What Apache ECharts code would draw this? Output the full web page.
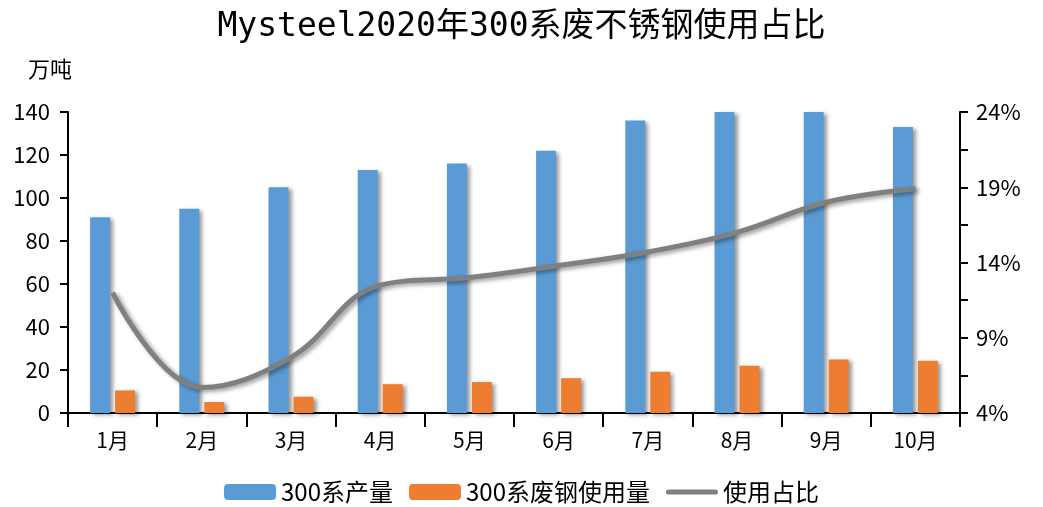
<!DOCTYPE html>
<html>
<head>
<meta charset="utf-8">
<script src="https://cdn.jsdelivr.net/npm/echarts@6/dist/echarts.min.js"></script>
<style>html,body{margin:0;padding:0;background:#fff;}#c{width:1043px;height:507px;}</style>
</head>
<body>
<div id="c"></div>
<script>
const categories = ['1月','2月','3月','4月','5月','6月','7月','8月','9月','10月'];
const output300 = [91, 95, 105, 113, 116, 122, 136, 140, 140, 133];
const scrapUse = [10.5, 5.1, 7.6, 13.4, 14.4, 16.2, 19.2, 22, 24.9, 24.3];
const shareRatio = [12.0, 5.7, 7.7, 12.5, 13.0, 13.8, 14.7, 16.0, 18.0, 18.9];
const seriesNames = ['300系产量', '300系废钢使用量', '使用占比'];

const font = '"Noto Sans CJK SC", sans-serif';
const titleFont = '"DejaVu Sans Mono", "Noto Sans CJK SC", monospace';
const chart = echarts.init(document.getElementById('c'));
const shadow = { shadowBlur: 4, shadowOffsetX: 3, shadowOffsetY: 2, shadowColor: 'rgba(0,0,0,0.4)' };
chart.setOption({
  animation: false,
  title: {
    text: 'Mysteel2020年300系废不锈钢使用占比',
    left: 'center', top: 6,
    textStyle: { fontFamily: titleFont, fontSize: 33, fontWeight: 'normal', color: '#000' }
  },
  legend: {
    bottom: -2, left: 'center',
    itemWidth: 52, itemHeight: 16, itemGap: 16,
    textStyle: { fontFamily: font, fontSize: 24, color: '#000' },
    data: [
      { name: seriesNames[0] },
      { name: seriesNames[1] },
      { name: seriesNames[2], icon: 'path://M3,0 L57,0 A3,3 0 0 1 57,6 L3,6 A3,3 0 0 1 3,0 Z' }
    ]
  },
  grid: { left: 68, right: 83, top: 112, bottom: 94 },
  xAxis: {
    type: 'category',
    data: categories,
    axisLine: { lineStyle: { color: '#000', width: 2 } },
    axisTick: { show: true, length: 14, lineStyle: { color: '#000', width: 2 } },
    axisLabel: { fontFamily: font, fontSize: 21, color: '#000', margin: 17 }
  },
  yAxis: [
    {
      type: 'value', min: 0, max: 140, interval: 20,
      name: '万吨', nameLocation: 'end', nameGap: 32,
      nameTextStyle: { fontFamily: font, fontSize: 22, color: '#000', align: 'right', padding: [0, -4, 0, 0] },
      axisLine: { show: true, lineStyle: { color: '#000', width: 2 } },
      axisTick: { show: true, length: 8, lineStyle: { color: '#000', width: 2 } },
      axisLabel: { fontFamily: font, fontSize: 22, color: '#000', margin: 18 },
      splitLine: { show: false }
    },
    {
      type: 'value', min: 4, max: 24, interval: 5,
      axisLine: { show: true, lineStyle: { color: '#000', width: 2 } },
      axisTick: { show: true, length: 8, lineStyle: { color: '#000', width: 2 } },
      minorTick: { show: true, splitNumber: 2, length: 8, lineStyle: { color: '#000', width: 2 } },
      axisLabel: { fontFamily: font, fontSize: 22, color: '#000', margin: 16, formatter: '{value}%' },
      splitLine: { show: false }
    }
  ],
  series: [
    {
      name: seriesNames[0], type: 'bar', data: output300,
      barWidth: 20, barGap: '25%',
      itemStyle: Object.assign({ color: '#5B9BD5' }, shadow)
    },
    {
      name: seriesNames[1], type: 'bar', data: scrapUse,
      barWidth: 20,
      itemStyle: Object.assign({ color: '#ED7D31' }, shadow)
    },
    {
      name: seriesNames[2], type: 'line', yAxisIndex: 1, data: shareRatio,
      smooth: 0.4, symbol: 'none',
      lineStyle: Object.assign({ color: '#808080', width: 5 }, shadow),
      itemStyle: { color: '#808080' }
    }
  ]
});
</script>
</body>
</html>
